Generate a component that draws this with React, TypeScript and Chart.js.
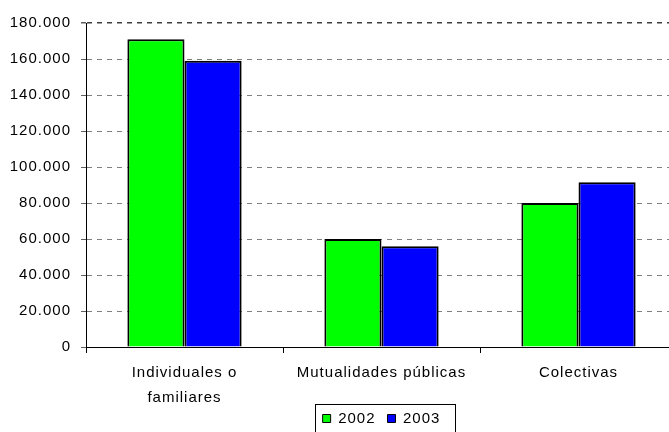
import React, { useEffect, useRef } from 'react';
import { Chart, registerables } from 'chart.js';

Chart.register(...registerables);

const categories: (string | string[])[] = [['Individuales o', 'familiares'], 'Mutualidades públicas', 'Colectivas'];
const seriesLabels = ['2002', '2003'];
const values2002 = [171000, 60000, 80000];
const values2003 = [159000, 56000, 91500];
const seriesColors = ['#00FF00', '#0000FF'];
const yMin = 0;
const yMax = 180000;
const yStep = 20000;

const FONT = "'Liberation Sans', Arial, sans-serif";

function fmt(v: number): string {
  return String(v).replace(/\B(?=(\d{3})+(?!\d))/g, '.');
}

const spacingPlugin = {
  id: 'spacing',
  beforeUpdate(chart: any) {
    chart.ctx.letterSpacing = '1px';
  },
  beforeDraw(chart: any) {
    chart.ctx.letterSpacing = '1px';
  },
};

const legendBoxPlugin = {
  id: 'legendBox',
  afterDraw(chart: any) {
    const lg = chart.legend;
    if (!lg || !lg.legendHitBoxes || !lg.legendHitBoxes.length) return;
    const hb = lg.legendHitBoxes;
    const l = Math.min(...hb.map((h: any) => h.left)) - 8;
    const r = Math.max(...hb.map((h: any) => h.left + h.width)) + 14;
    const t = hb[0].top - 7;
    const b = hb[0].top + hb[0].height + 10;
    const ctx = chart.ctx;
    ctx.save();
    ctx.strokeStyle = '#000';
    ctx.lineWidth = 1;
    ctx.setLineDash([]);
    ctx.strokeRect(Math.round(l) + 0.5, Math.round(t) + 0.5, Math.round(r - l), Math.round(b - t));
    ctx.restore();
  },
};

export default function App() {
  const ref = useRef<HTMLCanvasElement | null>(null);
  useEffect(() => {
    document.body.style.margin = '0';
    if (!ref.current) return;
    const chart = new Chart(ref.current, {
      type: 'bar',
      data: {
        labels: categories,
        datasets: [
          {
            label: seriesLabels[0],
            data: values2002,
            backgroundColor: seriesColors[0],
            borderColor: '#000',
            borderWidth: 2,
          },
          {
            label: seriesLabels[1],
            data: values2003,
            backgroundColor: seriesColors[1],
            borderColor: '#000',
            borderWidth: 2,
          },
        ],
      },
      options: {
        animation: false,
        responsive: true,
        maintainAspectRatio: false,
        datasets: { bar: { barPercentage: 1, categoryPercentage: 0.58 } },
        layout: { padding: { left: 0, right: 3, top: 23, bottom: 0 } },
        plugins: {
          tooltip: { enabled: false },
          legend: {
            position: 'bottom',
            fullSize: false,
            labels: {
              boxWidth: 8,
              boxHeight: 8,
              padding: 12,
              color: '#000',
              font: { family: FONT, size: 15 },
              generateLabels: (c: any) =>
                c.data.datasets.map((d: any, i: number) => ({
                  text: d.label,
                  fillStyle: d.backgroundColor,
                  strokeStyle: '#000',
                  lineWidth: 1,
                  datasetIndex: i,
                  hidden: false,
                })),
            },
          },
        },
        scales: {
          x: {
            offset: true,
            grid: {
              offset: true,
              drawOnChartArea: false,
              drawTicks: true,
              tickLength: 6,
              tickColor: '#000',
            },
            border: { display: true, color: '#000', width: 1 },
            ticks: {
              color: '#000',
              padding: 7,
              maxRotation: 0,
              autoSkip: false,
              font: { family: FONT, size: 15, lineHeight: 1.7 },
            },
            afterFit: (s: any) => {
              s.height = 52;
              s._computeLabelArea = () => undefined;
            },
          },
          y: {
            min: yMin,
            max: yMax,
            grid: {
              color: (c: any) => (c.tick && c.tick.value === yMax ? '#404040' : '#808080'),
              lineWidth: (c: any) => (c.tick && c.tick.value === yMax ? 1.5 : 1),
              tickLength: 5,
              tickColor: '#606060',
              drawTicks: true,
            },
            border: { display: true, color: '#000', width: 1, dash: [5, 5] },
            ticks: {
              stepSize: yStep,
              color: '#000',
              padding: 10,
              font: { family: FONT, size: 15 },
              callback: (v: any) => fmt(Number(v)),
            },
            afterFit: (s: any) => {
              s.width = 86;
            },
          },
        },
      },
      plugins: [spacingPlugin, legendBoxPlugin],
    });
    return () => chart.destroy();
  }, []);
  return (
    <div style={{ width: 669, height: 432, overflow: 'hidden', position: 'relative' }}>
      <div style={{ width: 680, height: 436, position: 'relative' }}>
        <canvas ref={ref} />
      </div>
    </div>
  );
}
